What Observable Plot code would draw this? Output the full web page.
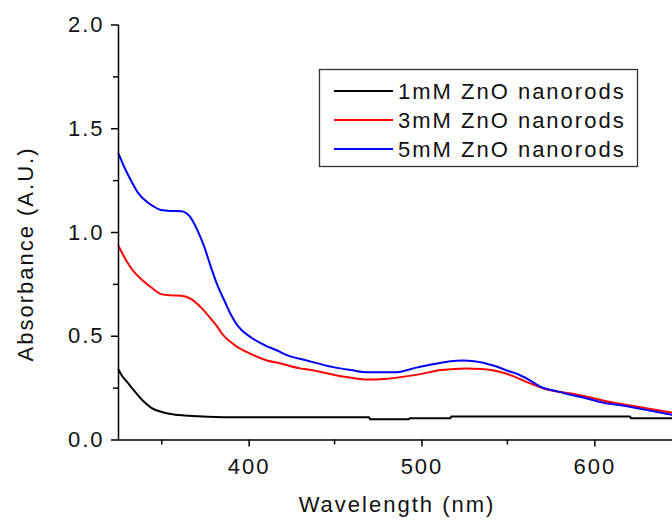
<!DOCTYPE html>
<html>
<head>
<meta charset="utf-8">
<script src="https://cdn.jsdelivr.net/npm/d3@7"></script>
<script src="https://cdn.jsdelivr.net/npm/@observablehq/plot@0.6"></script>
<style>
  html, body { margin: 0; padding: 0; background: #fff; }
</style>
</head>
<body>
<div id="chart"></div>
<script>
// ---- data ----
const seriesNames = ["1mM ZnO nanorods", "3mM ZnO nanorods", "5mM ZnO nanorods"];
const seriesColors = ["#000000", "#ff0000", "#0000ff"];

const wl1 = [325, 327, 330, 334, 339, 344, 350, 355, 363, 370, 389, 470, 470.5, 493, 493.5, 517, 517.5, 621, 621.5, 645];
const abs1 = [0.34, 0.31, 0.28, 0.238, 0.19, 0.155, 0.135, 0.125, 0.118, 0.115, 0.11, 0.11, 0.10, 0.10, 0.105, 0.105, 0.113, 0.113, 0.105, 0.105];

const wl3 = [325, 330.5, 334, 338.2, 344, 349.7, 355, 361.3, 367.1, 372.8, 378.6, 382.5, 384.4, 392.1, 401.7, 411.4, 417.2, 430.6, 434.5, 455.6, 469.2, 478.7, 498, 511.5, 517.3, 526, 534.6, 550, 563.5, 573.1, 588.5, 607.8, 627, 645];
const abs3 = [0.935, 0.851, 0.81, 0.775, 0.735, 0.703, 0.697, 0.695, 0.679, 0.638, 0.583, 0.542, 0.518, 0.458, 0.414, 0.382, 0.372, 0.344, 0.34, 0.305, 0.291, 0.294, 0.315, 0.337, 0.341, 0.344, 0.342, 0.318, 0.272, 0.243, 0.222, 0.186, 0.158, 0.132];

const wl5 = [325, 328.5, 332.4, 336.3, 342.1, 346, 349.7, 355, 361.3, 366.1, 370.9, 374.8, 378, 382.5, 386.3, 390, 394, 401.7, 410, 417.2, 421, 434.5, 449.9, 459.5, 469.2, 484.5, 498, 507.6, 517.3, 524, 530.7, 542.3, 550, 555.8, 561.6, 569.3, 580, 588.5, 594.3, 607.8, 613.6, 627, 645];
const abs5 = [1.38, 1.312, 1.248, 1.191, 1.143, 1.122, 1.108, 1.104, 1.103, 1.079, 1.007, 0.927, 0.845, 0.74, 0.671, 0.605, 0.55, 0.494, 0.455, 0.43, 0.414, 0.382, 0.35, 0.337, 0.326, 0.326, 0.35, 0.366, 0.38, 0.383, 0.38, 0.358, 0.334, 0.318, 0.294, 0.256, 0.232, 0.214, 0.204, 0.176, 0.17, 0.15, 0.122];

const xMajor = [400, 500, 600];
const xMinor = [350, 450, 550];
const yMajor = [0, 0.5, 1.0, 1.5, 2.0];
const yMinor = [0.25, 0.75, 1.25, 1.75];

const xLabel = "Wavelength (nm)";
const yLabel = "Absorbance (A.U.)";

// ---- build table ----
const wls = [wl1, wl3, wl5];
const abss = [abs1, abs3, abs5];
const rows = [];
seriesNames.forEach((name, i) => {
  wls[i].forEach((w, j) => rows.push({series: name, wl: w, abs: abss[i][j]}));
});

const FONT = "'Liberation Sans', Arial, sans-serif";
const FS = 22;
const LS = "2px";
const TXT = "#111";

const chart = Plot.plot({
  width: 672,
  height: 521,
  marginLeft: 118,
  marginRight: 0,
  marginTop: 24.5,
  marginBottom: 81.5,
  style: {fontFamily: FONT, fontSize: FS + "px", letterSpacing: LS, color: TXT, background: "#fff", overflow: "visible"},
  x: {domain: [325, 645.5]},
  y: {domain: [0, 2]},
  color: {domain: seriesNames, range: seriesColors},
  marks: [
    Plot.axisY({ticks: yMajor, tickSize: 7, tickPadding: 7, tickFormat: d => d.toFixed(1), label: null, stroke: "#000", strokeWidth: 1.5, fill: TXT, fontSize: FS}),
    Plot.axisY({ticks: yMinor, tickSize: 5, text: null, label: null, stroke: "#000", strokeWidth: 1.5}),
    Plot.axisX({ticks: xMajor, tickSize: 7, tickPadding: 11, label: null, stroke: "#000", strokeWidth: 1.5, fill: TXT, fontSize: FS, dx: 1}),
    Plot.axisX({ticks: xMinor, tickSize: 5, text: null, label: null, stroke: "#000", strokeWidth: 1.5}),
    Plot.line(rows, {x: "wl", y: "abs", z: "series", stroke: "series", strokeWidth: 2, curve: "monotone-x"}),
    Plot.ruleX([325], {stroke: "#000", strokeWidth: 1.5}),
    Plot.ruleY([0], {stroke: "#000", strokeWidth: 1.5})
  ]
});

document.getElementById("chart").appendChild(chart);

// ---- axis titles and legend ----
const svg = d3.select(chart);
function styleText(sel) {
  return sel.attr("fill", TXT)
    .style("font-family", FONT).style("font-size", FS + "px").style("letter-spacing", LS);
}
styleText(svg.append("text")
  .attr("x", 397).attr("y", 512)
  .attr("text-anchor", "middle"))
  .text(xLabel);
styleText(svg.append("text")
  .attr("transform", "translate(33,254) rotate(-90)")
  .attr("text-anchor", "middle"))
  .text(yLabel);

const lg = svg.append("g").attr("text-anchor", "start");
lg.append("rect")
  .attr("x", 319.5).attr("y", 69.5).attr("width", 318).attr("height", 97)
  .attr("fill", "#fff").attr("stroke", "#333").attr("stroke-width", 1.3);
seriesNames.forEach((name, i) => {
  const cy = 91 + 29 * i;
  lg.append("line")
    .attr("x1", 334).attr("x2", 393).attr("y1", cy).attr("y2", cy)
    .attr("stroke", seriesColors[i]).attr("stroke-width", 2);
  styleText(lg.append("text")
    .attr("x", 398).attr("y", cy + 7.5)
    .attr("text-anchor", "start"))
    .text(name);
});
</script>
</body>
</html>
